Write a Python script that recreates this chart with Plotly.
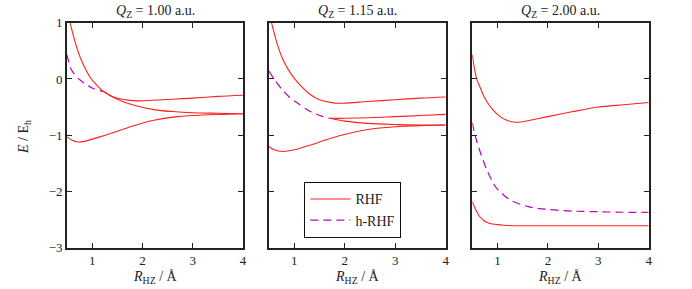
import plotly.graph_objects as go

# ---------------- data ----------------
titles = ["<i>Q</i><sub>Z</sub> = 1.00 a.u.", "<i>Q</i><sub>Z</sub> = 1.15 a.u.", "<i>Q</i><sub>Z</sub> = 2.00 a.u."]
x_ticks = [1, 2, 3, 4]
y_ticks = [-3, -2, -1, 0, 1]

# Q = 1.00
rhf1_a_x = [0.56, 0.66, 0.76, 0.86, 0.96, 1.06, 1.22, 1.5, 1.8, 2.25, 2.6, 3.0, 3.5, 4.0]
rhf1_a_y = [1.0, 0.66, 0.39, 0.19, 0.03, -0.08, -0.22, -0.36, -0.46, -0.55, -0.58, -0.60, -0.61, -0.62]
rhf1_b_x = [1.22, 1.4, 1.6, 1.9, 2.2, 2.6, 3.0, 3.5, 4.0]
rhf1_b_y = [-0.22, -0.31, -0.36, -0.39, -0.38, -0.36, -0.34, -0.31, -0.29]
rhf1_c_x = [0.5, 0.6, 0.72, 0.85, 1.0, 1.26, 1.5, 1.79, 2.25, 2.7, 3.2, 3.6, 4.0]
rhf1_c_y = [-1.03, -1.09, -1.12, -1.11, -1.07, -1.0, -0.93, -0.84, -0.73, -0.67, -0.64, -0.63, -0.62]
hrhf1_x = [0.5, 0.59, 0.76, 1.02, 1.22]
hrhf1_y = [0.43, 0.16, -0.02, -0.17, -0.22]

# Q = 1.15
rhf2_a_x = [0.55, 0.65, 0.75, 0.88, 1.01, 1.15, 1.34, 1.5, 1.8, 2.0, 2.46, 3.0, 3.5, 4.0]
rhf2_a_y = [1.0, 0.66, 0.40, 0.17, 0.0, -0.14, -0.29, -0.37, -0.43, -0.43, -0.40, -0.37, -0.34, -0.32]
rhf2_b_x = [1.70, 2.0, 2.46, 3.0, 3.5, 4.0]
rhf2_b_y = [-0.70, -0.70, -0.69, -0.67, -0.65, -0.63]
rhf2_c_x = [1.70, 2.0, 2.46, 3.0, 3.5, 4.0]
rhf2_c_y = [-0.70, -0.75, -0.79, -0.81, -0.82, -0.82]
rhf2_d_x = [0.5, 0.6, 0.78, 1.0, 1.34, 1.6, 1.93, 2.46, 3.0, 3.5, 4.0]
rhf2_d_y = [-1.2, -1.26, -1.29, -1.26, -1.17, -1.09, -1.0, -0.9, -0.85, -0.83, -0.82]
hrhf2_x = [0.5, 0.6, 0.75, 0.9, 1.05, 1.28, 1.54, 1.70]
hrhf2_y = [0.14, 0.0, -0.18, -0.32, -0.42, -0.56, -0.66, -0.70]

# Q = 2.00
rhf3_a_x = [0.5, 0.53, 0.56, 0.6, 0.65, 0.72, 0.8, 0.92, 1.05, 1.2, 1.35, 1.5, 2.0, 2.5, 3.0, 3.5, 4.0]
rhf3_a_y = [0.43, 0.25, 0.10, -0.03, -0.14, -0.29, -0.42, -0.56, -0.67, -0.74, -0.77, -0.76, -0.67, -0.58, -0.50, -0.46, -0.42]
rhf3_b_x = [0.5, 0.57, 0.65, 0.75, 0.85, 1.0, 1.12, 1.4, 2.0, 3.0, 4.0]
rhf3_b_y = [-2.18, -2.33, -2.45, -2.53, -2.57, -2.59, -2.60, -2.61, -2.61, -2.61, -2.61]
hrhf3_x = [0.5, 0.57, 0.62, 0.79, 0.98, 1.25, 1.61, 2.0, 2.5, 3.0, 3.5, 4.0]
hrhf3_y = [-0.78, -1.05, -1.2, -1.62, -1.94, -2.15, -2.27, -2.32, -2.35, -2.36, -2.37, -2.37]

panels = [
    {"rhf": [(rhf1_a_x, rhf1_a_y), (rhf1_b_x, rhf1_b_y), (rhf1_c_x, rhf1_c_y)], "hrhf": (hrhf1_x, hrhf1_y)},
    {"rhf": [(rhf2_a_x, rhf2_a_y), (rhf2_b_x, rhf2_b_y), (rhf2_c_x, rhf2_c_y), (rhf2_d_x, rhf2_d_y)], "hrhf": (hrhf2_x, hrhf2_y)},
    {"rhf": [(rhf3_a_x, rhf3_a_y), (rhf3_b_x, rhf3_b_y)], "hrhf": (hrhf3_x, hrhf3_y)},
]

# ---------------- figure ----------------
W, H = 692, 289
FONT = "Liberation Serif"
TXT = "#222222"
RED = "#ff2020"
MAG = "#bf00bf"

x_px = [(67, 243), (269, 445.7), (472.3, 648.7)]
y_px = (22.7, 247.7)


def px_x(v):
    return v / W


def px_y(v):
    return 1 - v / H


fig = go.Figure()
first_rhf = True
for i, p in enumerate(panels):
    xa = "x" if i == 0 else f"x{i+1}"
    ya = "y" if i == 0 else f"y{i+1}"
    for (cx, cy) in p["rhf"]:
        fig.add_trace(go.Scatter(x=cx, y=cy, mode="lines", xaxis=xa, yaxis=ya,
                                 line=dict(color=RED, width=1.1, shape="spline", smoothing=0.8),
                                 name="RHF", showlegend=first_rhf, legendrank=1))
        first_rhf = False
    hx, hy = p["hrhf"]
    fig.add_trace(go.Scatter(x=hx, y=hy, mode="lines", xaxis=xa, yaxis=ya,
                             line=dict(color=MAG, width=1.2, dash="8px,5px", shape="spline", smoothing=0.8),
                             name="h-RHF", showlegend=(i == 0), legendrank=2))

axis_common = dict(showline=True, linecolor=TXT, linewidth=1.6, mirror="ticks",
                   ticks="inside", ticklen=5, tickwidth=1, tickcolor=TXT,
                   showgrid=False, zeroline=False, automargin=False,
                   tickfont=dict(family=FONT, size=13, color=TXT))

layout = dict(width=W, height=H, autosize=False, margin=dict(l=0, r=0, t=0, b=0, pad=0, autoexpand=False),
              plot_bgcolor="white", paper_bgcolor="white",
              font=dict(family=FONT, size=14, color=TXT),
              legend=dict(x=px_x(304), y=px_y(182), xanchor="left", yanchor="top",
                          bordercolor="#111111", borderwidth=1.4, bgcolor="white", itemwidth=40,
                          font=dict(family=FONT, size=14, color=TXT), tracegroupgap=0),
              annotations=[])

for i in range(3):
    sx = "" if i == 0 else str(i + 1)
    x0, x1 = x_px[i]
    layout["xaxis" + sx] = dict(axis_common, domain=[px_x(x0), px_x(x1)], range=[0.5, 4],
                                tickvals=x_ticks, anchor="y" + sx)
    layout["yaxis" + sx] = dict(axis_common, domain=[px_y(y_px[1]), px_y(y_px[0])], range=[-3, 1],
                                tickvals=y_ticks, anchor="x" + sx, showticklabels=(i == 0))
    layout["annotations"].append(dict(text=titles[i], x=px_x((x0 + x1) / 2), y=px_y(11), xref="paper", yref="paper",
                                      showarrow=False, xanchor="center", yanchor="middle",
                                      font=dict(family=FONT, size=14, color=TXT)))
    layout["annotations"].append(dict(text="<i>R</i><sub>HZ</sub> / Å", x=px_x((x0 + x1) / 2), y=px_y(277),
                                      xref="paper", yref="paper", showarrow=False,
                                      xanchor="center", yanchor="middle",
                                      font=dict(family=FONT, size=14, color=TXT)))

layout["annotations"].append(dict(text="<i>E</i> / E<sub>h</sub>", x=px_x(25), y=px_y(137), xref="paper", yref="paper",
                                  showarrow=False, textangle=-90, xanchor="center", yanchor="middle",
                                  font=dict(family=FONT, size=14, color=TXT)))

fig.update_layout(**layout)
fig.write_html("out.html", config={"displayModeBar": False},
               post_script="document.body.style.margin='0px';")
